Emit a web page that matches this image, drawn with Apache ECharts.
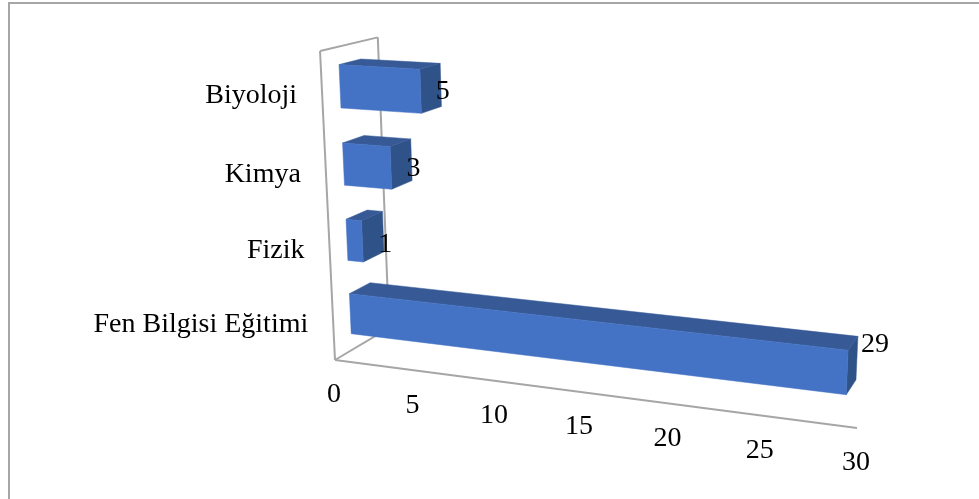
<!DOCTYPE html>
<html>
<head>
<meta charset="utf-8">
<style>html,body{margin:0;padding:0;background:#fff}#c{width:979px;height:499px}</style>
<script src="https://cdn.jsdelivr.net/npm/echarts@6/dist/echarts.min.js"></script>
</head>
<body>
<div id="c"></div>
<script>
// Department counts, bottom category first
const categories = ['Fen Bilgisi Eğitimi', 'Fizik', 'Kimya', 'Biyoloji'];
const counts = [29, 1, 3, 5];
const tickValues = [0, 5, 10, 15, 20, 25, 30];
const axisMax = 30;

// Perspective camera: maps (u along value axis, d into depth, h up the wall) to screen
const CAM = {
  ox: 335, oy: 360,
  ux: 423, uy: 18.6, up: -0.1155,
  dx: 79.7, dy: -10.4, dp: 0.066,
  hx: -31.6, hy: -311.7, hp: -0.052
};
function project(u, d, h) {
  const w = 1 + CAM.up * u + CAM.dp * d + CAM.hp * h;
  return [
    (CAM.ox + CAM.ux * u + CAM.dx * d + CAM.hx * h) / w,
    (CAM.oy + CAM.uy * u + CAM.dy * d + CAM.hy * h) / w
  ];
}

// The flat grid supplies the scales; its pixels are re-read as normalised plot coordinates
const GRID = { left: 100, top: 40, width: 600, height: 400 };
function toPlot(pt) {
  return [(pt[0] - GRID.left) / GRID.width, 1 - (pt[1] - GRID.top) / GRID.height];
}

const BAR_FRONT = 0.3, BAR_BACK = 0.68, BAR_SHARE = 0.55;
const FONT = '"Liberation Serif", serif';
const FONT_SIZE = 28;
const WALL = '#a6a6a6';

function poly(points, color) {
  return { type: 'polygon', shape: { points }, style: { fill: color, stroke: color, lineWidth: 0.5 } };
}
function seg(a, b) {
  return { type: 'line', shape: { x1: a[0], y1: a[1], x2: b[0], y2: b[1] }, style: { stroke: WALL, lineWidth: 2 } };
}
function label(text, x, y, align) {
  return {
    type: 'text',
    style: { text, x, y, fill: '#000', font: FONT_SIZE + 'px ' + FONT, align: align || 'center', verticalAlign: 'middle' }
  };
}

function renderBar(params, api) {
  const end = toPlot(api.coord([api.value(0), api.value(1)]));
  const half = api.size([0, 1])[1] / GRID.height * BAR_SHARE / 2;
  const u = end[0], h0 = end[1] - half, h1 = end[1] + half;
  const f = BAR_FRONT, b = BAR_BACK;
  return {
    type: 'group',
    children: [
      poly([project(u, f, h0), project(u, b, h0), project(u, b, h1), project(u, f, h1)], '#2f5288'),
      poly([project(0, f, h1), project(u, f, h1), project(u, b, h1), project(0, b, h1)], '#375a97'),
      poly([project(0, f, h0), project(u, f, h0), project(u, f, h1), project(0, f, h1)], '#4472c4')
    ]
  };
}

// Where each count sits relative to the bar's far end
const valueNudge = [[18, -14], [2, 13], [2, 9], [2, 7]];
function renderValue(params, api) {
  const end = toPlot(api.coord([api.value(0), api.value(1)]));
  const p = project(end[0], BAR_BACK, end[1]);
  const n = valueNudge[params.dataIndex];
  return label(String(api.value(0)), p[0] + n[0], p[1] + n[1]);
}
function renderTick(params, api) {
  const at = toPlot(api.coord([api.value(0), 0]));
  const p = project(at[0], 0, 0);
  return label(String(api.value(0)), p[0] - 1, p[1] + 35);
}
function renderCategory(params, api) {
  const at = toPlot(api.coord([0, api.value(0)]));
  const p = project(0, 0, at[1]);
  return label(categories[params.dataIndex], p[0] - 25, p[1] + 1 + 4 * at[1], 'right');
}
function renderWalls() {
  const a = project(0, 0, 0), b = project(1, 0, 0), c = project(0, 1, 0);
  const d = project(0, 0, 1), e = project(0, 1, 1);
  return { type: 'group', children: [seg(a, b), seg(a, c), seg(a, d), seg(d, e), seg(e, c)] };
}

const barRows = counts.map((v, i) => [v, i]);
const chart = echarts.init(document.getElementById('c'), null, { renderer: 'canvas' });
chart.setOption({
  animation: false,
  backgroundColor: '#fff',
  grid: GRID,
  xAxis: { type: 'value', min: 0, max: axisMax, interval: 5, show: false },
  yAxis: { type: 'category', data: categories, show: false },
  graphic: [{
    type: 'polyline', silent: true,
    shape: { points: [[9, 499], [9, 3], [979, 3]] },
    style: { fill: 'none', stroke: '#a6a6a6', lineWidth: 2 }
  }],
  series: [
    { type: 'custom', clip: false, silent: true, z: 1, data: [[0]], renderItem: renderWalls },
    { type: 'custom', clip: false, silent: true, z: 2, data: barRows, renderItem: renderBar },
    { type: 'custom', clip: false, silent: true, z: 3, data: barRows, renderItem: renderValue },
    { type: 'custom', clip: false, silent: true, z: 3, data: tickValues.map(v => [v]), renderItem: renderTick },
    { type: 'custom', clip: false, silent: true, z: 3, data: categories.map((c, i) => [i]), renderItem: renderCategory }
  ]
});
</script>
</body>
</html>
